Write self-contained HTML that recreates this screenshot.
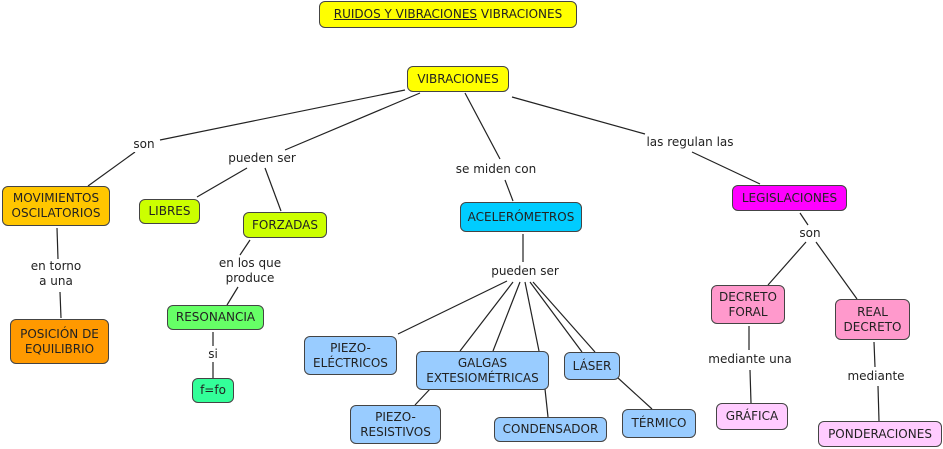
<!DOCTYPE html>
<html><head><meta charset="utf-8"><style>
html,body{margin:0;padding:0;background:#fff;}
body{width:943px;height:449px;position:relative;overflow:hidden;font-family:"DejaVu Sans","Liberation Sans",sans-serif;font-size:12px;color:#222;}
.b{position:absolute;box-sizing:border-box;border:1px solid #444;border-radius:6px;display:flex;align-items:center;justify-content:center;text-align:center;line-height:15px;white-space:nowrap;}
.l{position:absolute;background:#fff;text-align:center;line-height:15px;white-space:nowrap;transform:translateX(-50%);}
svg{position:absolute;left:0;top:0;}
</style></head><body>
<svg width="943" height="449" stroke="#222" stroke-width="1.2" fill="none">
<line x1="405" y1="90" x2="160" y2="140"/><line x1="135" y1="152" x2="88" y2="186"/>
<line x1="420" y1="93" x2="285" y2="150"/><line x1="247" y1="168" x2="197" y2="197"/><line x1="265" y1="168" x2="281" y2="211"/>
<line x1="465" y1="93" x2="500" y2="159"/><line x1="505" y1="180" x2="513" y2="201"/>
<line x1="512" y1="97" x2="645" y2="134"/><line x1="692" y1="152" x2="760" y2="184"/>
<line x1="57" y1="228" x2="58" y2="259"/><line x1="60" y1="292" x2="61" y2="318"/>
<line x1="250" y1="240" x2="240" y2="255"/><line x1="238" y1="287" x2="227" y2="305"/>
<line x1="213" y1="332" x2="213" y2="346"/><line x1="213" y1="362" x2="213" y2="378"/>
<line x1="523" y1="234" x2="523" y2="262"/>
<line x1="507" y1="281" x2="398" y2="334"/><line x1="513" y1="282" x2="460" y2="351"/><line x1="520" y1="282" x2="493" y2="351"/><line x1="525" y1="282" x2="539" y2="351"/><line x1="530" y1="282" x2="582" y2="352"/><line x1="533" y1="282" x2="595" y2="352"/>
<line x1="430" y1="389" x2="415" y2="405"/><line x1="545" y1="389" x2="548" y2="417"/><line x1="618" y1="378" x2="652" y2="409"/>
<line x1="800" y1="213" x2="808" y2="225"/><line x1="806" y1="242" x2="768" y2="285"/><line x1="816" y1="242" x2="857" y2="299"/>
<line x1="749" y1="326" x2="749" y2="350"/><line x1="750" y1="370" x2="751" y2="403"/>
<line x1="874" y1="342" x2="875" y2="367"/><line x1="878" y1="386" x2="879" y2="421"/>
</svg>
<div class="b" style="left:319px;top:1px;width:258px;height:27px;background:#ffff00;"><span><u>RUIDOS Y VIBRACIONES</u> VIBRACIONES</span></div>
<div class="b" style="left:407px;top:66px;width:102px;height:26px;background:#ffff00;">VIBRACIONES</div>
<div class="b" style="left:2px;top:186px;width:108px;height:40px;background:#ffc600;">MOVIMIENTOS<br>OSCILATORIOS</div>
<div class="b" style="left:139px;top:199px;width:61px;height:25px;background:#ccff00;">LIBRES</div>
<div class="b" style="left:243px;top:212px;width:84px;height:26px;background:#ccff00;">FORZADAS</div>
<div class="b" style="left:460px;top:202px;width:122px;height:30px;background:#00ccff;">ACELERÓMETROS</div>
<div class="b" style="left:732px;top:185px;width:115px;height:26px;background:#ff00ff;">LEGISLACIONES</div>
<div class="b" style="left:10px;top:319px;width:99px;height:45px;background:#ff9900;">POSICIÓN DE<br>EQUILIBRIO</div>
<div class="b" style="left:167px;top:305px;width:97px;height:25px;background:#66ff66;">RESONANCIA</div>
<div class="b" style="left:192px;top:378px;width:42px;height:25px;background:#33ff99;">f=fo</div>
<div class="b" style="left:304px;top:336px;width:93px;height:39px;background:#99ccff;">PIEZO-<br>ELÉCTRICOS</div>
<div class="b" style="left:416px;top:351px;width:133px;height:39px;background:#99ccff;">GALGAS<br>EXTESIOMÉTRICAS</div>
<div class="b" style="left:564px;top:352px;width:56px;height:28px;background:#99ccff;">LÁSER</div>
<div class="b" style="left:350px;top:405px;width:91px;height:39px;background:#99ccff;">PIEZO-<br>RESISTIVOS</div>
<div class="b" style="left:494px;top:417px;width:113px;height:25px;background:#99ccff;">CONDENSADOR</div>
<div class="b" style="left:622px;top:409px;width:74px;height:29px;background:#99ccff;">TÉRMICO</div>
<div class="b" style="left:711px;top:285px;width:74px;height:39px;background:#ff99cc;">DECRETO<br>FORAL</div>
<div class="b" style="left:835px;top:299px;width:75px;height:41px;background:#ff99cc;">REAL<br>DECRETO</div>
<div class="b" style="left:716px;top:403px;width:72px;height:27px;background:#ffccff;">GRÁFICA</div>
<div class="b" style="left:818px;top:421px;width:124px;height:26px;background:#ffccff;">PONDERACIONES</div>
<div class="l" style="left:144px;top:137px;">son</div>
<div class="l" style="left:262px;top:151px;">pueden ser</div>
<div class="l" style="left:496px;top:162px;">se miden con</div>
<div class="l" style="left:690px;top:135px;">las regulan las</div>
<div class="l" style="left:56px;top:259px;">en torno<br>a una</div>
<div class="l" style="left:250px;top:256px;">en los que<br>produce</div>
<div class="l" style="left:213px;top:347px;">si</div>
<div class="l" style="left:525px;top:264px;">pueden ser</div>
<div class="l" style="left:810px;top:226px;">son</div>
<div class="l" style="left:750px;top:352px;">mediante una</div>
<div class="l" style="left:876px;top:369px;">mediante</div>
</body></html>
